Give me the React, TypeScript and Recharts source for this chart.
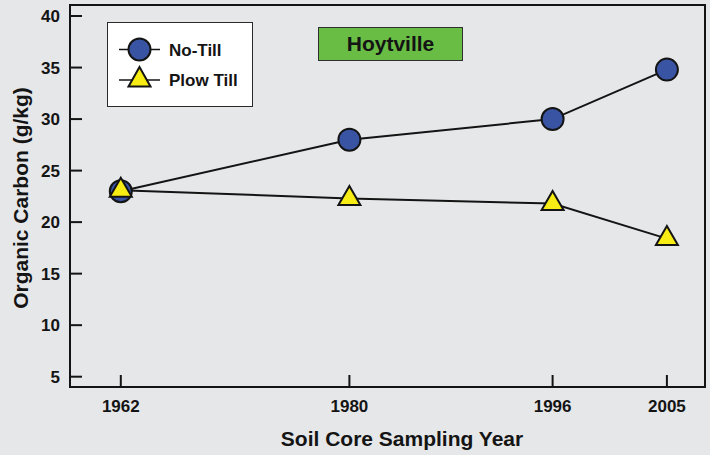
import React from 'react';
import { LineChart, Line, XAxis, YAxis, ReferenceArea } from 'recharts';

const years = [1962, 1980, 1996, 2005];
const noTill = [23.0, 28.0, 30.0, 34.8];
const plowTill = [23.1, 22.3, 21.8, 18.4];
const xTicks = [1962, 1980, 1996, 2005];
const yTicks = [5, 10, 15, 20, 25, 30, 35, 40];
const seriesNames = ['No-Till', 'Plow Till'];
const siteName = 'Hoytville';
const xTitle = 'Soil Core Sampling Year';
const yTitle = 'Organic Carbon (g/kg)';

const data = years.map((y, i) => ({ year: y, noTill: noTill[i], plowTill: plowTill[i] }));

const FONT = '"Liberation Sans", Arial, Helvetica, sans-serif';
const BG = '#e6e7e9';
const BLUE = '#3a54a4';
const YELLOW = '#f7ec13';
const GREEN = '#69bd45';
const INK = '#141414';

const CircleDot = (props: any) => {
  const { cx, cy } = props;
  if (cx == null || cy == null) return null;
  return <circle cx={cx} cy={cy} r={11} fill={BLUE} stroke={INK} strokeWidth={2} />;
};

const TriangleDot = (props: any) => {
  const { cx, cy } = props;
  if (cx == null || cy == null) return null;
  const pts = `${cx},${cy - 12.5} ${cx - 11},${cy + 6.5} ${cx + 11},${cy + 6.5}`;
  return <polygon points={pts} fill={YELLOW} stroke={INK} strokeWidth={2} strokeLinejoin="miter" />;
};

const YTitle = () => (
  <text
    x={28}
    y={198}
    transform="rotate(-90 28 198)"
    textAnchor="middle"
    fontFamily={FONT}
    fontWeight="bold"
    fontSize={21}
    fill={INK}
  >
    {yTitle}
  </text>
);

const XTitle = () => (
  <text x={402} y={446} textAnchor="middle" fontFamily={FONT} fontWeight="bold" fontSize={21} fill={INK}>
    {xTitle}
  </text>
);

export default function App() {
  return (
    <div style={{ position: 'absolute', left: 0, top: 0, width: 710, height: 455, background: BG, fontFamily: FONT }}>
      <LineChart width={710} height={455} data={data} margin={{ top: 5, right: 5, bottom: 0, left: 0 }}>
        <ReferenceArea
          x1={1958}
          x2={2008}
          y1={4}
          y2={41.07}
          fill="none"
          fillOpacity={0}
          stroke={INK}
          strokeWidth={2}
          ifOverflow="visible"
        />
        <XAxis
          type="number"
          dataKey="year"
          domain={[1958, 2008]}
          ticks={xTicks}
          allowDataOverflow
          height={68}
          tickSize={-12}
          tickMargin={25}
          axisLine={{ stroke: INK, strokeWidth: 2 }}
          tickLine={{ stroke: INK, strokeWidth: 2 }}
          tick={{ fill: INK, fontSize: 17, fontWeight: 'bold', fontFamily: FONT }}
          label={{ content: () => <XTitle /> }}
        />
        <YAxis
          type="number"
          domain={[4, 41.07]}
          ticks={yTicks}
          allowDataOverflow
          width={70}
          tickSize={-12}
          tickMargin={22}
          axisLine={{ stroke: INK, strokeWidth: 2 }}
          tickLine={{ stroke: INK, strokeWidth: 2 }}
          tick={{ fill: INK, fontSize: 17, fontWeight: 'bold', fontFamily: FONT }}
          label={{ content: () => <YTitle /> }}
        />
        <Line
          dataKey="noTill"
          name={seriesNames[0]}
          stroke={INK}
          strokeWidth={2}
          dot={<CircleDot />}
          activeDot={false}
          isAnimationActive={false}
        />
        <Line
          dataKey="plowTill"
          name={seriesNames[1]}
          stroke={INK}
          strokeWidth={2}
          dot={<TriangleDot />}
          activeDot={false}
          isAnimationActive={false}
        />
      </LineChart>

      <div
        style={{
          position: 'absolute',
          left: 107,
          top: 22,
          width: 146,
          height: 85,
          boxSizing: 'border-box',
          background: '#ffffff',
          border: '1.5px solid #2a2a2a',
        }}
      >
        <svg width={146} height={85} style={{ position: 'absolute', left: -1.5, top: -1.5 }}>
          <line x1={12} y1={27.5} x2={53} y2={27.5} stroke={INK} strokeWidth={1.5} />
          <circle cx={32.5} cy={27.5} r={11} fill={BLUE} stroke={INK} strokeWidth={2} />
          <text x={62} y={27.5} dy="0.36em" fontFamily={FONT} fontWeight="bold" fontSize={17} fill={INK}>
            {seriesNames[0]}
          </text>
          <line x1={12} y1={58} x2={53} y2={58} stroke={INK} strokeWidth={1.5} />
          <polygon points="32.5,45 21.5,64.5 43.5,64.5" fill={YELLOW} stroke={INK} strokeWidth={2} />
          <text x={62} y={58} dy="0.36em" fontFamily={FONT} fontWeight="bold" fontSize={17} fill={INK}>
            {seriesNames[1]}
          </text>
        </svg>
      </div>

      <div
        style={{
          position: 'absolute',
          left: 318,
          top: 27,
          width: 145,
          height: 34,
          boxSizing: 'border-box',
          background: GREEN,
          border: '1px solid #2f2f2f',
          display: 'flex',
          alignItems: 'center',
          justifyContent: 'center',
          fontFamily: FONT,
          fontWeight: 'bold',
          fontSize: 21,
          color: INK,
        }}
      >
        {siteName}
      </div>
    </div>
  );
}
